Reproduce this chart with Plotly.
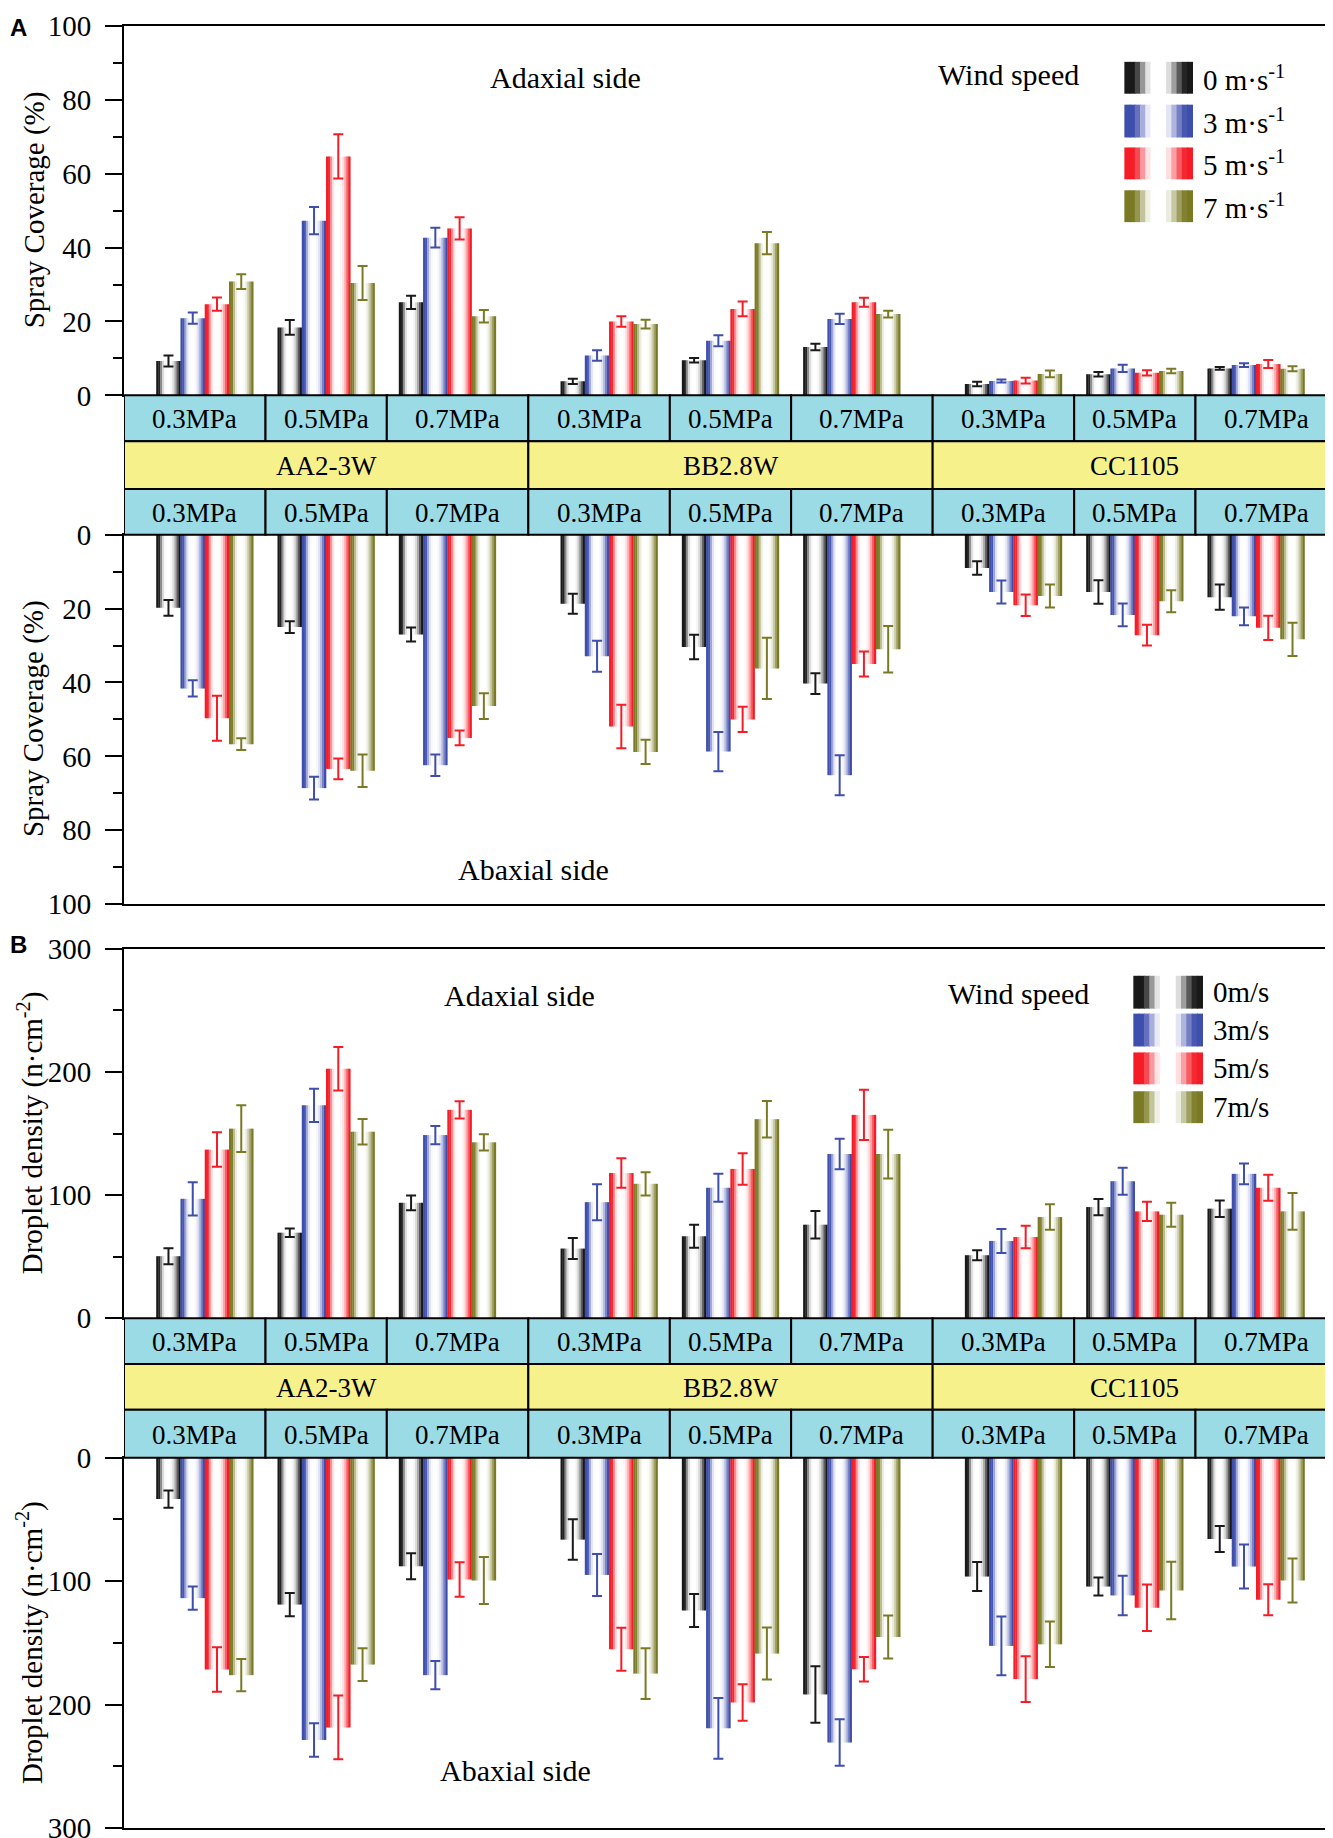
import plotly.graph_objects as go

# ---- data ----
nozzles = ["AA2-3W", "BB2.8W", "CC1105"]
pressures = ["0.3MPa", "0.5MPa", "0.7MPa"]
wind_labels_a = ["0 m·s<sup>-1</sup>", "3 m·s<sup>-1</sup>", "5 m·s<sup>-1</sup>", "7 m·s<sup>-1</sup>"]
wind_labels_b = ["0m/s", "3m/s", "5m/s", "7m/s"]

# order of values: AA 0.3/0.5/0.7, BB 0.3/0.5/0.7, CC 0.3/0.5/0.7
cov_ad_0 = [9.3, 18.4, 25.2, 3.8, 9.5, 13.1, 3.1, 5.7, 7.3]
cov_ad_0_err = [1.5, 2.0, 1.8, 0.7, 0.6, 0.9, 0.6, 0.6, 0.4]
cov_ad_3 = [20.9, 47.3, 42.7, 10.8, 14.8, 20.7, 3.9, 7.3, 8.2]
cov_ad_3_err = [1.5, 3.7, 2.7, 1.4, 1.5, 1.4, 0.4, 1.0, 0.5]
cov_ad_5 = [24.7, 64.7, 45.2, 20.0, 23.4, 25.2, 4.0, 6.1, 8.5]
cov_ad_5_err = [1.8, 6.0, 3.0, 1.4, 2.0, 1.2, 0.8, 0.7, 1.1]
cov_ad_7 = [30.8, 30.4, 21.4, 19.3, 41.2, 22.0, 5.8, 6.6, 7.2]
cov_ad_7_err = [2.0, 4.6, 1.7, 1.2, 3.0, 0.9, 0.9, 0.6, 0.7]

cov_ab_0 = [19.8, 25.0, 27.0, 18.7, 30.4, 40.3, 9.0, 15.5, 16.9]
cov_ab_0_err = [2.1, 1.6, 1.9, 2.7, 3.3, 2.8, 1.8, 3.2, 3.4]
cov_ab_3 = [41.6, 68.6, 62.4, 32.9, 58.7, 65.1, 15.5, 21.7, 22.1]
cov_ab_3_err = [2.2, 3.1, 2.9, 4.2, 5.3, 5.4, 3.1, 3.1, 2.4]
cov_ab_5 = [49.7, 63.4, 55.0, 51.9, 50.0, 35.0, 19.1, 27.2, 25.2]
cov_ab_5_err = [6.1, 2.8, 2.0, 5.9, 3.4, 3.4, 2.9, 2.8, 3.3]
cov_ab_7 = [56.7, 63.9, 46.4, 58.8, 36.2, 31.0, 16.6, 18.0, 28.3]
cov_ab_7_err = [1.6, 4.4, 3.5, 3.3, 8.3, 6.3, 3.1, 3.0, 4.5]

den_ad_0 = [50.4, 69.5, 93.8, 56.6, 66.6, 76.0, 51.2, 90.3, 89.0]
den_ad_0_err = [6.5, 3.4, 6.0, 8.5, 9.4, 11.2, 4.0, 6.6, 6.7]
den_ad_3 = [97.0, 173.0, 148.8, 94.3, 106.0, 133.4, 62.8, 111.3, 117.3]
den_ad_3_err = [13.5, 13.5, 7.4, 14.6, 11.3, 12.3, 9.7, 11.0, 8.4]
den_ad_5 = [137.0, 202.7, 169.3, 118.0, 121.3, 165.2, 66.0, 86.8, 106.0]
den_ad_5_err = [14.0, 17.7, 7.0, 12.0, 12.8, 20.5, 9.2, 7.8, 10.5]
den_ad_7 = [154.0, 151.5, 142.9, 109.2, 161.7, 133.4, 82.2, 84.1, 86.8]
den_ad_7_err = [19.0, 10.4, 6.6, 9.4, 14.8, 19.8, 10.4, 9.8, 15.0]

den_ab_0 = [33.6, 119.0, 88.0, 66.4, 123.8, 191.8, 96.3, 104.4, 65.9]
den_ab_0_err = [7.0, 9.4, 10.5, 16.4, 13.4, 22.9, 11.8, 7.3, 10.5]
den_ab_3 = [113.8, 228.7, 176.2, 95.0, 219.3, 230.8, 152.5, 111.6, 88.2]
den_ab_3_err = [9.4, 13.6, 11.4, 17.0, 24.6, 18.8, 23.8, 16.0, 17.9]
den_ab_5 = [171.6, 218.5, 98.7, 155.2, 198.3, 171.4, 179.4, 121.6, 115.1]
den_ab_5_err = [18.0, 25.8, 14.0, 17.5, 14.8, 10.0, 18.6, 18.8, 12.6]
den_ab_7 = [176.2, 167.6, 99.5, 174.9, 158.7, 145.3, 151.2, 107.6, 99.5]
den_ab_7_err = [13.0, 13.3, 19.0, 20.6, 21.1, 17.5, 18.4, 23.3, 17.8]

# ---- styling / layout helpers ----
W, H = 1333, 1838
ML, MR, MT, MB = 116, 2, 15, 13
PW, PH = W - ML - MR, H - MT - MB
SERIF = "Liberation Serif, Times New Roman, serif"
colors = [(25, 25, 25), (62, 78, 172), (244, 28, 38), (122, 122, 36)]
BAND_BLUE = "#9BDBE6"
BAND_YELLOW = "#F7F18B"


def py(p):
    return (H - MB - p) / PH


def px(p):
    return (p - ML) / PW


def tint(c, f):
    return "rgb(%d,%d,%d)" % tuple(round(v * f + 255 * (1 - f)) for v in c)


def label(text, x, y, size, xref="paper", **kw):
    d = dict(text=text, x=x, y=y, xref=xref, yref="paper", showarrow=False,
             xanchor="center", yanchor="middle",
             font=dict(family=SERIF, size=size, color="black"))
    d.update(kw)
    return d


GAP = 1 / 3
pos = [n * (3 + GAP) + k for n in range(3) for k in range(3)]
XMIN, XMAX = -2 / 3, 3 * (3 + GAP) - 2 / 3
BW = 0.2
bar_profile = [1.0, 0.95, 0.5, 0.15, 0.02, 0.0, 0.0, 0.04, 0.15, 0.38, 0.7, 1.0]

panels = [
    dict(top=15, bot=386, ymax=100, rev=False, dtick=20, minor=10,
         vals=[cov_ad_0, cov_ad_3, cov_ad_5, cov_ad_7],
         errs=[cov_ad_0_err, cov_ad_3_err, cov_ad_5_err, cov_ad_7_err]),
    dict(top=526, bot=897, ymax=100, rev=True, dtick=20, minor=10,
         vals=[cov_ab_0, cov_ab_3, cov_ab_5, cov_ab_7],
         errs=[cov_ab_0_err, cov_ab_3_err, cov_ab_5_err, cov_ab_7_err]),
    dict(top=942, bot=1313, ymax=300, rev=False, dtick=100, minor=50,
         vals=[den_ad_0, den_ad_3, den_ad_5, den_ad_7],
         errs=[den_ad_0_err, den_ad_3_err, den_ad_5_err, den_ad_7_err]),
    dict(top=1453, bot=1825, ymax=300, rev=True, dtick=100, minor=50,
         vals=[den_ab_0, den_ab_3, den_ab_5, den_ab_7],
         errs=[den_ab_0_err, den_ab_3_err, den_ab_5_err, den_ab_7_err]),
]

fig = go.Figure()
axes = {}
n_strip = len(bar_profile)
sw = BW / n_strip

for i, p in enumerate(panels, start=1):
    xa, ya = "x%d" % i, "y%d" % i
    for s in range(4):
        off = (s - 1.5) * BW
        for j, f in enumerate(bar_profile):
            so = -BW / 2 + sw * (j + 0.5)
            fig.add_trace(go.Bar(
                x=[q + off + so for q in pos], y=p["vals"][s], width=sw * 1.15,
                marker=dict(color=tint(colors[s], f), line=dict(width=0)),
                xaxis=xa, yaxis=ya, showlegend=False, hoverinfo="skip"))
    for s in range(4):
        off = (s - 1.5) * BW
        fig.add_trace(go.Scatter(
            x=[q + off for q in pos], y=p["vals"][s], mode="markers",
            marker=dict(size=1, color="rgba(0,0,0,0)"),
            error_y=dict(type="data", array=p["errs"][s], color=tint(colors[s], 1),
                         thickness=2, width=5),
            xaxis=xa, yaxis=ya, showlegend=False, hoverinfo="skip"))

    sfx = "" if i == 1 else str(i)
    axes["xaxis" + sfx] = dict(
        domain=[0, 1], anchor=ya, range=[XMIN, XMAX], showline=True, mirror=True,
        linecolor="black", linewidth=2, showticklabels=False, ticks="",
        showgrid=False, zeroline=False)
    axes["yaxis" + sfx] = dict(
        domain=[py(p["bot"]), py(p["top"])], anchor=xa,
        range=[p["ymax"], 0] if p["rev"] else [0, p["ymax"]],
        tickmode="linear", dtick=p["dtick"], tick0=0, ticks="outside", ticklen=17,
        tickwidth=2, tickcolor="black", ticklabelstandoff=8,
        minor=dict(ticks="outside", ticklen=9, tickwidth=2, dtick=p["minor"], tickcolor="black"),
        showline=True, mirror=True, linecolor="black", linewidth=2,
        showgrid=False, zeroline=False)

# ---- category bands between the adaxial and abaxial plots ----
shapes = []
annotations = []
bounds = [XMIN] + [(pos[k] + pos[k + 1]) / 2 for k in range(8)] + [XMAX]
band_rows = [[386, 432, 480, 526], [1313, 1359, 1405, 1453]]
for rows in band_rows:
    for r, (y0, y1) in enumerate(zip(rows[:-1], rows[1:])):
        if r == 1:
            cells = [(bounds[3 * n], bounds[3 * n + 3], nozzles[n]) for n in range(3)]
            fill = BAND_YELLOW
        else:
            cells = [(bounds[k], bounds[k + 1], pressures[k % 3]) for k in range(9)]
            fill = BAND_BLUE
        for x0, x1, lab in cells:
            shapes.append(dict(type="rect", xref="x", yref="paper", x0=x0, x1=x1,
                               y0=py(y1), y1=py(y0), fillcolor=fill,
                               line=dict(color="black", width=2), layer="above"))
            annotations.append(label(lab, (x0 + x1) / 2, py((y0 + y1) / 2 + 1), 27, xref="x"))

# ---- custom gradient legends ----
legend_profile = [1.0, 1.0, 0.8, 0.45, 0.12, 0.0, 0.0, 0.0, 0.15, 0.42, 0.72, 0.95, 1.0]
legends = [
    dict(x0=1118, x1=1186, rows=[(51, 83), (94, 127), (137, 169), (180, 212)],
         tx=1195, labels=wind_labels_a, ws=(1002, 64)),
    dict(x0=1127, x1=1196, rows=[(969, 1002), (1007, 1040), (1046, 1078), (1085, 1117)],
         tx=1205, labels=wind_labels_b, ws=(1012, 987)),
]
for lg in legends:
    step = (lg["x1"] - lg["x0"]) / len(legend_profile)
    for s, (r0, r1) in enumerate(lg["rows"]):
        for j, f in enumerate(legend_profile):
            a = lg["x0"] + j * step
            shapes.append(dict(type="rect", xref="paper", yref="paper",
                               x0=px(a), x1=px(a + step * 1.15), y0=py(r1), y1=py(r0),
                               fillcolor=tint(colors[s], f), line=dict(width=0)))
        annotations.append(label(lg["labels"][s], px(lg["tx"]), py((r0 + r1) / 2), 29,
                                 xanchor="left"))
    annotations.append(label("Wind speed", px(lg["ws"][0]), py(lg["ws"][1]), 30))

# ---- other texts ----
for t, x, y in [("Adaxial side", 558, 67), ("Abaxial side", 526, 862),
                ("Adaxial side", 512, 989), ("Abaxial side", 508, 1767)]:
    annotations.append(label(t, px(x), py(y), 30))

for t, x, y in [("Spray Coverage (%)", 26, 200), ("Spray Coverage (%)", 26, 711),
                ("Droplet density (n·cm<sup>-2</sup>)", 22, 1127),
                ("Droplet density (n·cm<sup>-2</sup>)", 22, 1639)]:
    annotations.append(label(t, px(x), py(y), 29, textangle=-90))

for lab, y in [("A", 17), ("B", 938)]:
    d = label("<b>%s</b>" % lab, px(10), py(y), 24)
    d["font"]["family"] = "Liberation Sans, Arial, sans-serif"
    annotations.append(d)

fig.update_layout(
    width=W, height=H, margin=dict(l=ML, r=MR, t=MT, b=MB, pad=0),
    font=dict(family=SERIF, size=29, color="black"),
    paper_bgcolor="white", plot_bgcolor="white", barmode="overlay",
    showlegend=False, shapes=shapes, annotations=annotations, **axes)
fig.update_yaxes(tickfont=dict(family=SERIF, size=29, color="black"))

fig.write_html("out.html")
